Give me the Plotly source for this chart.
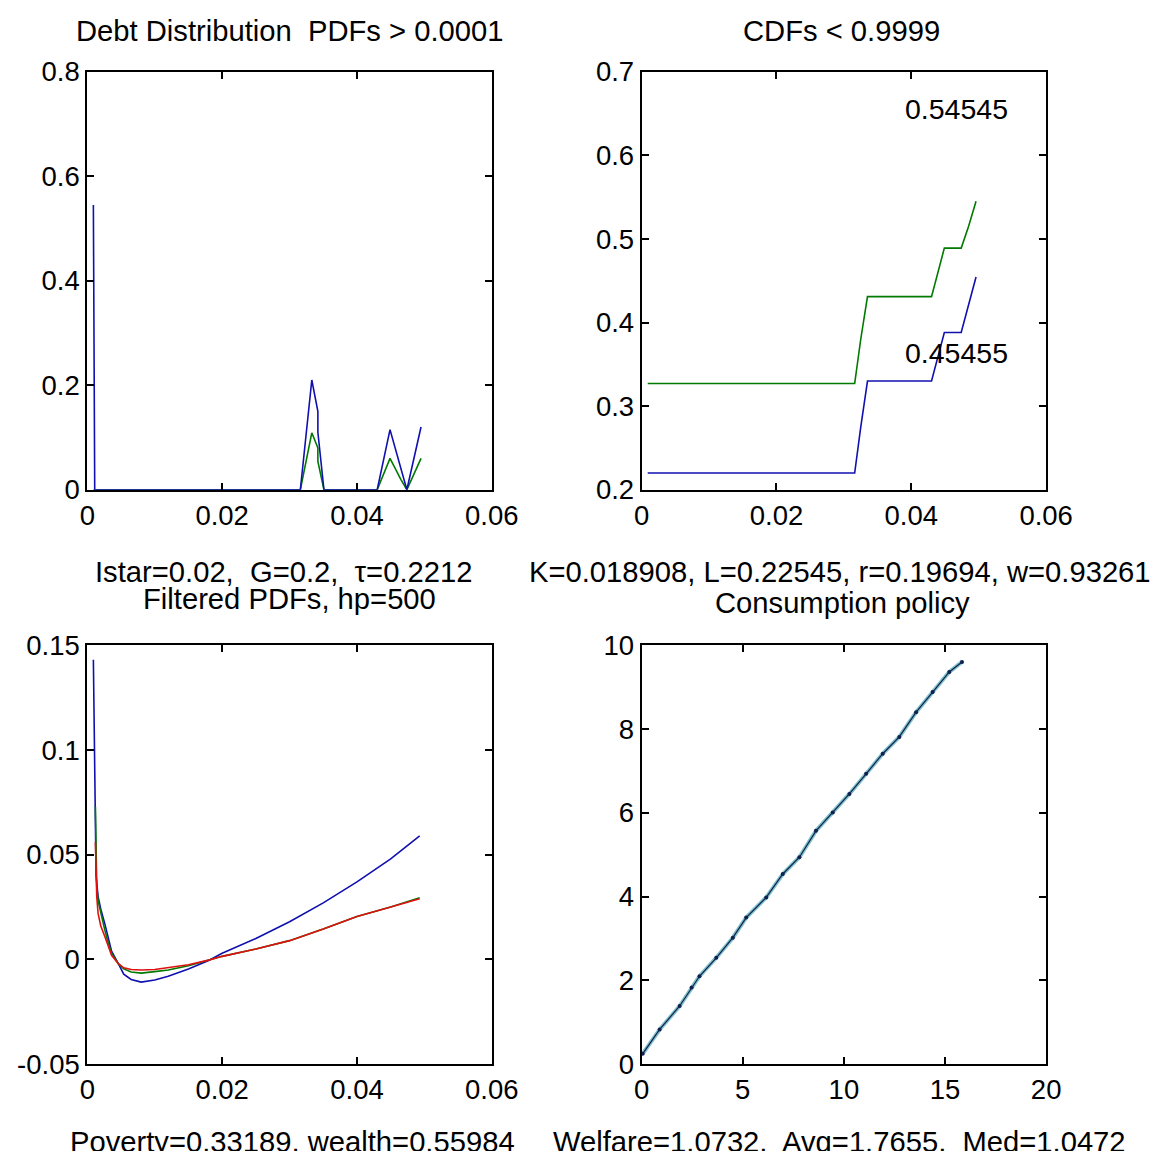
import plotly.graph_objects as go

# ---------------- data ----------------
# Top-left: PDFs
pdf_blue_x = [0.0009, 0.0011, 0.0316, 0.0333, 0.0342, 0.0342, 0.0351, 0.0430, 0.0449, 0.0465, 0.0474, 0.0495]
pdf_blue_y = [0.545, 0.0, 0.0, 0.21, 0.15, 0.11, 0.0, 0.0, 0.115, 0.04, 0.0, 0.12]
pdf_green_x = [0.0009, 0.0011, 0.0316, 0.0333, 0.0342, 0.0342, 0.0351, 0.0430, 0.0449, 0.0465, 0.0474, 0.0495]
pdf_green_y = [0.0, 0.0, 0.0, 0.109, 0.08, 0.054, 0.0, 0.0, 0.06, 0.02, 0.0, 0.06]

# Top-right: CDFs
cdf_x = [0.0009, 0.0316, 0.0325, 0.0335, 0.0430, 0.0440, 0.0449, 0.0474, 0.0485, 0.0496]
cdf_green = [0.327, 0.327, 0.38, 0.431, 0.431, 0.46, 0.489, 0.489, 0.515, 0.545]
cdf_blue = [0.22, 0.22, 0.275, 0.33, 0.33, 0.36, 0.388, 0.388, 0.42, 0.4545]
cdf_labels = ["0.54545", "0.45455"]

# Bottom-left: filtered PDFs
fb_x = [0.0009, 0.0011, 0.0013, 0.0016, 0.002, 0.0026, 0.0031, 0.0036, 0.0046, 0.0054, 0.0065,
        0.008, 0.010, 0.012, 0.015, 0.018, 0.020, 0.025, 0.030, 0.035, 0.040, 0.045, 0.0493]
fb_y = [0.143, 0.075, 0.04, 0.03, 0.024, 0.017, 0.010, 0.004, -0.002, -0.007, -0.0095,
        -0.0108, -0.0098, -0.008, -0.0045, -0.0005, 0.003, 0.010, 0.018, 0.027, 0.037, 0.048, 0.059]
fg_x = [0.0012, 0.0014, 0.0016, 0.002, 0.0026, 0.0031, 0.0036, 0.0046, 0.0054, 0.0065, 0.008,
        0.010, 0.012, 0.015, 0.018, 0.020, 0.025, 0.030, 0.035, 0.040, 0.045, 0.0493]
fg_y = [0.073, 0.035, 0.028, 0.022, 0.014, 0.008, 0.003, -0.002, -0.0045, -0.006, -0.0065,
        -0.0058, -0.005, -0.003, -0.0005, 0.0015, 0.005, 0.009, 0.0145, 0.0205, 0.025, 0.0295]
fr_y = [0.056, 0.030, 0.022, 0.016, 0.011, 0.006, 0.002, -0.002, -0.004, -0.0048, -0.005,
        -0.0048, -0.004, -0.0025, -0.0003, 0.0015, 0.005, 0.009, 0.0145, 0.0205, 0.025, 0.029]

# Bottom-right: consumption policy
cons_x = [0.05, 0.89, 1.88, 2.47, 2.86, 3.69, 4.51, 5.17, 6.16, 6.98, 7.8, 8.62, 9.45,
          10.27, 11.1, 11.92, 12.74, 13.57, 14.39, 15.21, 15.84]
cons_y = [0.25, 0.83, 1.39, 1.83, 2.1, 2.54, 3.02, 3.5, 3.98, 4.54, 4.94, 5.57, 6.01,
          6.45, 6.93, 7.41, 7.81, 8.40, 8.88, 9.36, 9.60]

# ---------------- figure ----------------
W, H = 1160, 1151
FONT = "Liberation Sans, Arial, sans-serif"
BLUE = "#1010b0"
GREEN = "#007a00"
RED = "#e01010"

# compensation for the observed page-to-picture mapping
SX, SY, OX, OY = 0.971, 0.9705, 7.6, 16.5

def px_x(p):
    return ((p - OX) / SX) / W

def px_y(p):
    return 1 - ((p - OY) / SY) / H

fig = go.Figure()

fig.add_trace(go.Scatter(x=pdf_green_x, y=pdf_green_y, mode="lines", line=dict(color=GREEN, width=1.6), xaxis="x", yaxis="y"))
fig.add_trace(go.Scatter(x=pdf_blue_x, y=pdf_blue_y, mode="lines", line=dict(color=BLUE, width=1.6), xaxis="x", yaxis="y"))

fig.add_trace(go.Scatter(x=cdf_x, y=cdf_blue, mode="lines", line=dict(color=BLUE, width=1.6), xaxis="x2", yaxis="y2"))
fig.add_trace(go.Scatter(x=cdf_x, y=cdf_green, mode="lines", line=dict(color=GREEN, width=1.6), xaxis="x2", yaxis="y2"))

fig.add_trace(go.Scatter(x=fb_x, y=fb_y, mode="lines", line=dict(color=BLUE, width=1.6), xaxis="x3", yaxis="y3"))
fig.add_trace(go.Scatter(x=fg_x, y=fg_y, mode="lines", line=dict(color=GREEN, width=1.6), xaxis="x3", yaxis="y3"))
fig.add_trace(go.Scatter(x=fg_x, y=fr_y, mode="lines", line=dict(color=RED, width=1.6), xaxis="x3", yaxis="y3"))

fig.add_trace(go.Scatter(x=cons_x, y=cons_y, mode="lines", line=dict(color="#7fc0c8", width=4), xaxis="x4", yaxis="y4"))
fig.add_trace(go.Scatter(x=cons_x, y=cons_y, mode="lines+markers", line=dict(color="#102050", width=1.2),
                         marker=dict(size=4, color="#102050"), xaxis="x4", yaxis="y4"))

dx_left = [px_x(87), px_x(492)]
dx_right = [px_x(642), px_x(1047)]
dy_top = [px_y(490), px_y(73)]
dy_bot = [px_y(1063), px_y(645)]

TICK_SIZE = 27.5
TEXT_SIZE = 29.2

common = dict(showline=True, linecolor="black", linewidth=2, mirror="ticks", ticks="inside",
              ticklen=7, tickwidth=2, tickcolor="black", showgrid=False, zeroline=False,
              tickfont=dict(family=FONT, size=TICK_SIZE, color="black"))

x_ticks_small = [0, 0.02, 0.04, 0.06]
x_ticktext_small = ["0", "0.02", "0.04", "0.06"]

fig.update_layout(
    width=W, height=H, margin=dict(l=0, r=0, t=0, b=0),
    paper_bgcolor="white", plot_bgcolor="white", showlegend=False,
    xaxis=dict(domain=dx_left, range=[0, 0.06], tickvals=x_ticks_small, ticktext=x_ticktext_small, anchor="y", **common),
    yaxis=dict(domain=dy_top, range=[0, 0.8], tickvals=[0, 0.2, 0.4, 0.6, 0.8],
               ticktext=["0", "0.2", "0.4", "0.6", "0.8"], anchor="x", **common),
    xaxis2=dict(domain=dx_right, range=[0, 0.06], tickvals=x_ticks_small, ticktext=x_ticktext_small, anchor="y2", **common),
    yaxis2=dict(domain=dy_top, range=[0.2, 0.7], tickvals=[0.2, 0.3, 0.4, 0.5, 0.6, 0.7],
                ticktext=["0.2", "0.3", "0.4", "0.5", "0.6", "0.7"], anchor="x2", **common),
    xaxis3=dict(domain=dx_left, range=[0, 0.06], tickvals=x_ticks_small, ticktext=x_ticktext_small, anchor="y3", **common),
    yaxis3=dict(domain=dy_bot, range=[-0.05, 0.15], tickvals=[-0.05, 0, 0.05, 0.1, 0.15],
                ticktext=["-0.05", "0", "0.05", "0.1", "0.15"], anchor="x3", **common),
    xaxis4=dict(domain=dx_right, range=[0, 20], tickvals=[0, 5, 10, 15, 20],
                ticktext=["0", "5", "10", "15", "20"], anchor="y4", **common),
    yaxis4=dict(domain=dy_bot, range=[0, 10], tickvals=[0, 2, 4, 6, 8, 10],
                ticktext=["0", "2", "4", "6", "8", "10"], anchor="x4", **common),
)

def txt(text, xc, yc, size=TEXT_SIZE, yanchor="middle"):
    fig.add_annotation(text=text, x=px_x(xc), y=px_y(yc), xref="paper", yref="paper",
                       xanchor="center", yanchor=yanchor, showarrow=False,
                       font=dict(family=FONT, size=size, color="black"))

txt("Debt Distribution  PDFs > 0.0001", 289, 32)
txt("CDFs < 0.9999", 842, 32)
txt("Istar=0.02,  G=0.2,  \u03c4=0.2212", 283, 572)
txt("Filtered PDFs, hp=500", 289, 599)
txt("K=0.018908, L=0.22545, r=0.19694, w=0.93261", 841, 572)
txt("Consumption policy", 843, 603)
txt("Poverty=0.33189, wealth=0.55984", 292, 1123, yanchor="top")
txt("Welfare=1.0732,  Avg=1.7655,  Med=1.0472", 840, 1123, yanchor="top")

# CDF end-value labels (data coordinates)
fig.add_annotation(text=cdf_labels[0], x=0.0467, y=0.6556, xref="x2", yref="y2", showarrow=False,
                   xanchor="center", yanchor="middle", font=dict(family=FONT, size=28.5, color="black"))
fig.add_annotation(text=cdf_labels[1], x=0.0467, y=0.364, xref="x2", yref="y2", showarrow=False,
                   xanchor="center", yanchor="middle", font=dict(family=FONT, size=28.5, color="black"))

fig.write_html("out.html")
